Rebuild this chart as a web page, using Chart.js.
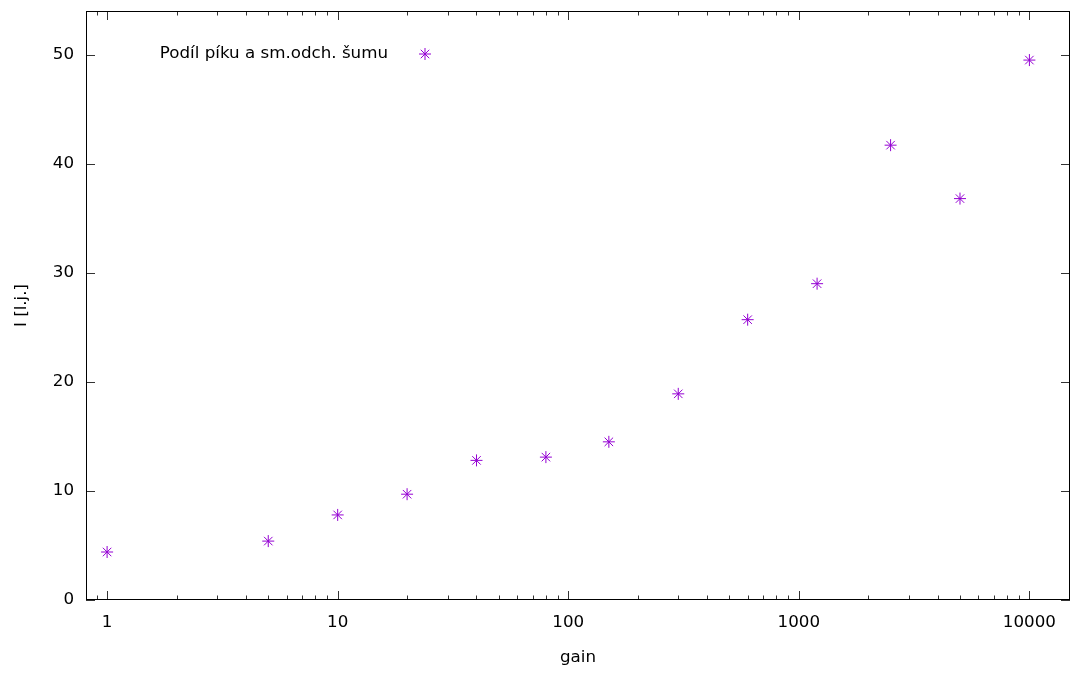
<!DOCTYPE html>
<html><head><meta charset="utf-8">
<script src="https://cdn.jsdelivr.net/npm/chart.js@4/dist/chart.umd.min.js"></script>
<style>html,body{margin:0;padding:0;background:#fff}#wrap{width:1075px;height:673px}</style>
</head><body><div id="wrap"><canvas id="c" width="1075" height="673"></canvas></div>
<script>
const gain = [1, 5, 10, 20, 40, 80, 150, 300, 600, 1200, 2500, 5000, 10000];
const intensity = [4.4, 5.4, 7.8, 9.7, 12.8, 13.1, 14.5, 18.9, 25.7, 29.0, 41.7, 36.8, 49.5];
const xTickValues = [1, 10, 100, 1000, 10000];
const yTickValues = [0, 10, 20, 30, 40, 50];
const seriesLabel = 'Podíl píku a sm.odch. šumu';
const xTitle = 'gain';
const yTitle = 'I [l.j.]';

const FONT = {family: 'DejaVu Sans', size: 16.7};
const COLOR = '#9400d3';

const framePlugin = {
  id: 'frame',
  afterDraw(chart) {
    const {ctx, chartArea: a, scales: {x, y}} = chart;
    ctx.save();
    ctx.strokeStyle = '#333';
    ctx.lineWidth = 1;
    ctx.beginPath();
    const lo = Math.floor(Math.log10(x.min)), hi = Math.ceil(Math.log10(x.max));
    for (let d = lo; d <= hi; d++) {
      for (let m = 1; m <= 9; m++) {
        const v = m * Math.pow(10, d);
        if (v < x.min || v > x.max) continue;
        const px = Math.round(x.getPixelForValue(v)) + 0.5;
        const len = m === 1 ? 9 : 4.5;
        ctx.moveTo(px, a.bottom); ctx.lineTo(px, a.bottom - len);
        ctx.moveTo(px, a.top); ctx.lineTo(px, a.top + len);
      }
    }
    yTickValues.forEach(v => {
      const py = Math.round(y.getPixelForValue(v)) + 0.5;
      ctx.moveTo(a.left, py); ctx.lineTo(a.left + 9, py);
      ctx.moveTo(a.right, py); ctx.lineTo(a.right - 9, py);
    });
    ctx.stroke();
    ctx.strokeStyle = '#000';
    ctx.strokeRect(Math.round(a.left) + 0.5, Math.round(a.top) + 0.5,
      Math.round(a.right - a.left) - 1, Math.round(a.bottom - a.top) - 1);
    // key
    ctx.fillStyle = '#000';
    ctx.font = FONT.size + 'px "' + FONT.family + '"';
    ctx.textAlign = 'right';
    ctx.textBaseline = 'middle';
    const ky = a.top + 43;
    ctx.fillText(seriesLabel, a.left + 302, ky);
    const ds = chart.data.datasets[0];
    if (Chart.helpers && Chart.helpers.drawPoint) {
      ctx.strokeStyle = COLOR;
      ctx.lineWidth = 1;
      Chart.helpers.drawPoint(ctx, {pointStyle: 'star', radius: ds.pointRadius, rotation: 0, borderWidth: 1}, a.left + 339, ky);
    }
    ctx.restore();
  }
};

new Chart(document.getElementById('c'), {
  type: 'scatter',
  data: {
    datasets: [{
      label: seriesLabel,
      data: gain.map((g, i) => ({x: g, y: intensity[i]})),
      pointStyle: 'star',
      pointRadius: 6,
      pointHoverRadius: 6,
      borderColor: COLOR,
      backgroundColor: COLOR,
      borderWidth: 1,
      showLine: false
    }]
  },
  options: {
    responsive: false,
    animation: false,
    devicePixelRatio: 1,
    layout: {autoPadding: false, padding: {top: 11, right: 5, left: 0, bottom: 0}},
    plugins: {legend: {display: false}, tooltip: {enabled: false}},
    scales: {
      x: {
        type: 'logarithmic',
        min: 0.81, max: 15000,
        afterBuildTicks: s => { s.ticks = xTickValues.map(v => ({value: v, major: true})); },
        afterFit: s => { s.height = 73; s.paddingLeft = 0; s.paddingRight = 0; },
        grid: {display: false, drawTicks: false},
        border: {display: false},
        ticks: {font: FONT, color: '#000', padding: 13, maxRotation: 0, autoSkip: false,
          callback: v => String(v)},
        title: {display: true, text: xTitle, font: FONT, color: '#000', padding: {top: 0, bottom: 5}}
      },
      y: {
        type: 'linear',
        min: 0, max: 54,
        afterBuildTicks: s => { s.ticks = yTickValues.map(v => ({value: v})); },
        afterFit: s => { s.width = 86; s.paddingTop = 0; s.paddingBottom = 0; },
        grid: {display: false, drawTicks: false},
        border: {display: false},
        ticks: {font: FONT, color: '#000', padding: 12, includeBounds: false},
        title: {display: true, text: yTitle, font: FONT, color: '#000', padding: {top: 12, bottom: 0}}
      }
    }
  },
  plugins: [framePlugin]
});
</script></body></html>
